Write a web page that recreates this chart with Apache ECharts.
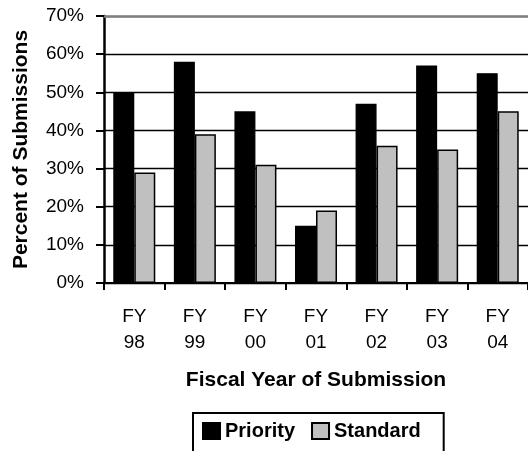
<!DOCTYPE html>
<html>
<head>
<meta charset="utf-8">
<script src="https://cdn.jsdelivr.net/npm/echarts@6/dist/echarts.min.js"></script>
<style>
  html, body { margin: 0; padding: 0; background: #fff; }
  #chart { width: 528px; height: 451px; }
</style>
</head>
<body>
<div id="chart"></div>
<script>
// Share of submissions by fiscal year, priority vs. standard review
const categories = ['FY\n98', 'FY\n99', 'FY\n00', 'FY\n01', 'FY\n02', 'FY\n03', 'FY\n04'];
const priority = [50, 58, 45, 15, 47, 57, 55];
const standard = [29, 39, 31, 19, 36, 35, 45];
const yTicks = { min: 0, max: 70, interval: 10 };

const FONT = '"Liberation Sans", Arial, sans-serif';

const chart = echarts.init(document.getElementById('chart'), null, { renderer: 'canvas' });

chart.setOption({
  animation: false,
  backgroundColor: '#ffffff',
  textStyle: { fontFamily: FONT, color: '#000' },
  grid: { left: 104, right: -7, top: 16, bottom: 168, containLabel: false },
  legend: {
    data: ['Priority', 'Standard'],
    icon: 'rect',
    left: 193,
    top: 413,
    orient: 'horizontal',
    itemWidth: 17,
    itemHeight: 16,
    itemGap: 16,
    borderColor: '#000',
    borderWidth: 2,
    padding: [8, 23, 20, 9],
    textStyle: { fontFamily: FONT, fontSize: 20, fontWeight: 'bold', color: '#000' }
  },
  xAxis: {
    type: 'category',
    data: categories,
    boundaryGap: true,
    axisLine: { show: true, lineStyle: { color: '#000', width: 2 } },
    axisTick: { show: true, length: 7, lineStyle: { color: '#000', width: 2 } },
    axisLabel: { fontFamily: FONT, fontSize: 19, color: '#000', margin: 21, lineHeight: 26 },
    name: 'Fiscal Year of Submission',
    nameLocation: 'middle',
    nameGap: 87,
    nameTextStyle: { fontFamily: FONT, fontSize: 21, fontWeight: 'bold', color: '#000' },
    splitLine: { show: false }
  },
  yAxis: {
    type: 'value',
    min: yTicks.min,
    max: yTicks.max,
    interval: yTicks.interval,
    axisLine: { show: true, lineStyle: { color: '#000', width: 2.5 } },
    axisTick: { show: true, length: 8, lineStyle: { color: '#000', width: 2 } },
    axisLabel: { fontFamily: FONT, fontSize: 19, color: '#000', margin: 20, formatter: '{value}%' },
    splitLine: { show: true, lineStyle: { color: ['#000', '#000', '#000', '#000', '#000', '#000', '#000', '#808080'], width: 1.3 } },
    name: 'Percent of Submissions',
    nameLocation: 'middle',
    nameGap: 72,
    nameTextStyle: { fontFamily: FONT, fontSize: 21, fontWeight: 'bold', color: '#000' }
  },
  series: [
    {
      name: 'Priority',
      type: 'bar',
      data: priority,
      barWidth: 21,
      barGap: '0%',
      itemStyle: { color: '#000000', borderColor: '#000', borderWidth: 1.3 },
      markLine: {
        silent: true,
        symbol: 'none',
        label: { show: false },
        lineStyle: { color: '#808080', width: 2.5, type: 'solid' },
        data: [{ yAxis: yTicks.max }]
      }
    },
    {
      name: 'Standard',
      type: 'bar',
      data: standard,
      barWidth: 21,
      barGap: '0%',
      itemStyle: { color: '#c0c0c0', borderColor: '#000', borderWidth: 1.5 }
    }
  ]
});
</script>
</body>
</html>
